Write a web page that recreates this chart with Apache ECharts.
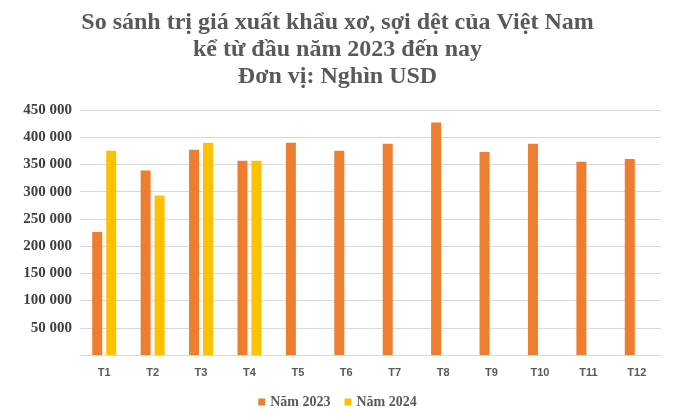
<!DOCTYPE html>
<html><head><meta charset="utf-8">
<script src="https://cdn.jsdelivr.net/npm/echarts@6/dist/echarts.min.js"></script>
<style>html,body{margin:0;padding:0;background:#fff}#c{width:675px;height:420px}</style>
</head><body><div id="c"></div>
<script>
const categories=['T1','T2','T3','T4','T5','T6','T7','T8','T9','T10','T11','T12'];
const s2023=[226000,339000,377000,357000,390000,375000,388000,427000,373000,388000,355000,360000];
const s2024=[375000,293000,390000,357000,null,null,null,null,null,null,null,null];
const chart=echarts.init(document.getElementById('c'));
chart.setOption({
  animation:false,
  title:{text:'So sánh trị giá xuất khẩu xơ, sợi dệt của Việt Nam\nkể từ đầu năm 2023 đến nay\nĐơn vị: Nghìn USD',left:'center',top:4,
    textStyle:{fontFamily:'Liberation Serif',fontWeight:'bold',fontSize:24,lineHeight:27,color:'#595959'}},
  legend:{bottom:6,itemWidth:7,itemHeight:7,icon:'rect',itemGap:14,
    textStyle:{fontFamily:'Liberation Serif',fontWeight:'bold',fontSize:14,color:'#595959'}},
  grid:{left:80,right:14,top:110,bottom:65},
  xAxis:{type:'category',data:categories,axisTick:{show:false},axisLine:{lineStyle:{color:'#d9d9d9'}},
    axisLabel:{fontFamily:'Liberation Sans',fontWeight:'bold',fontSize:11,color:'#595959',margin:12}},
  yAxis:{type:'value',min:0,max:450000,interval:50000,axisLine:{show:false},splitLine:{lineStyle:{color:'#d9d9d9'}},
    axisLabel:{fontFamily:'Liberation Serif',fontWeight:'bold',fontSize:15,color:'#404040',
      formatter:v=>v===0?'':String(v).replace(/\B(?=(\d{3})+(?!\d))/g,' ')}},
  series:[
    {name:'Năm 2023',type:'bar',data:s2023,barWidth:10,barGap:'40%',itemStyle:{color:'#ed7d31'}},
    {name:'Năm 2024',type:'bar',data:s2024,barWidth:10,itemStyle:{color:'#ffc000'}}
  ]
});
</script></body></html>
